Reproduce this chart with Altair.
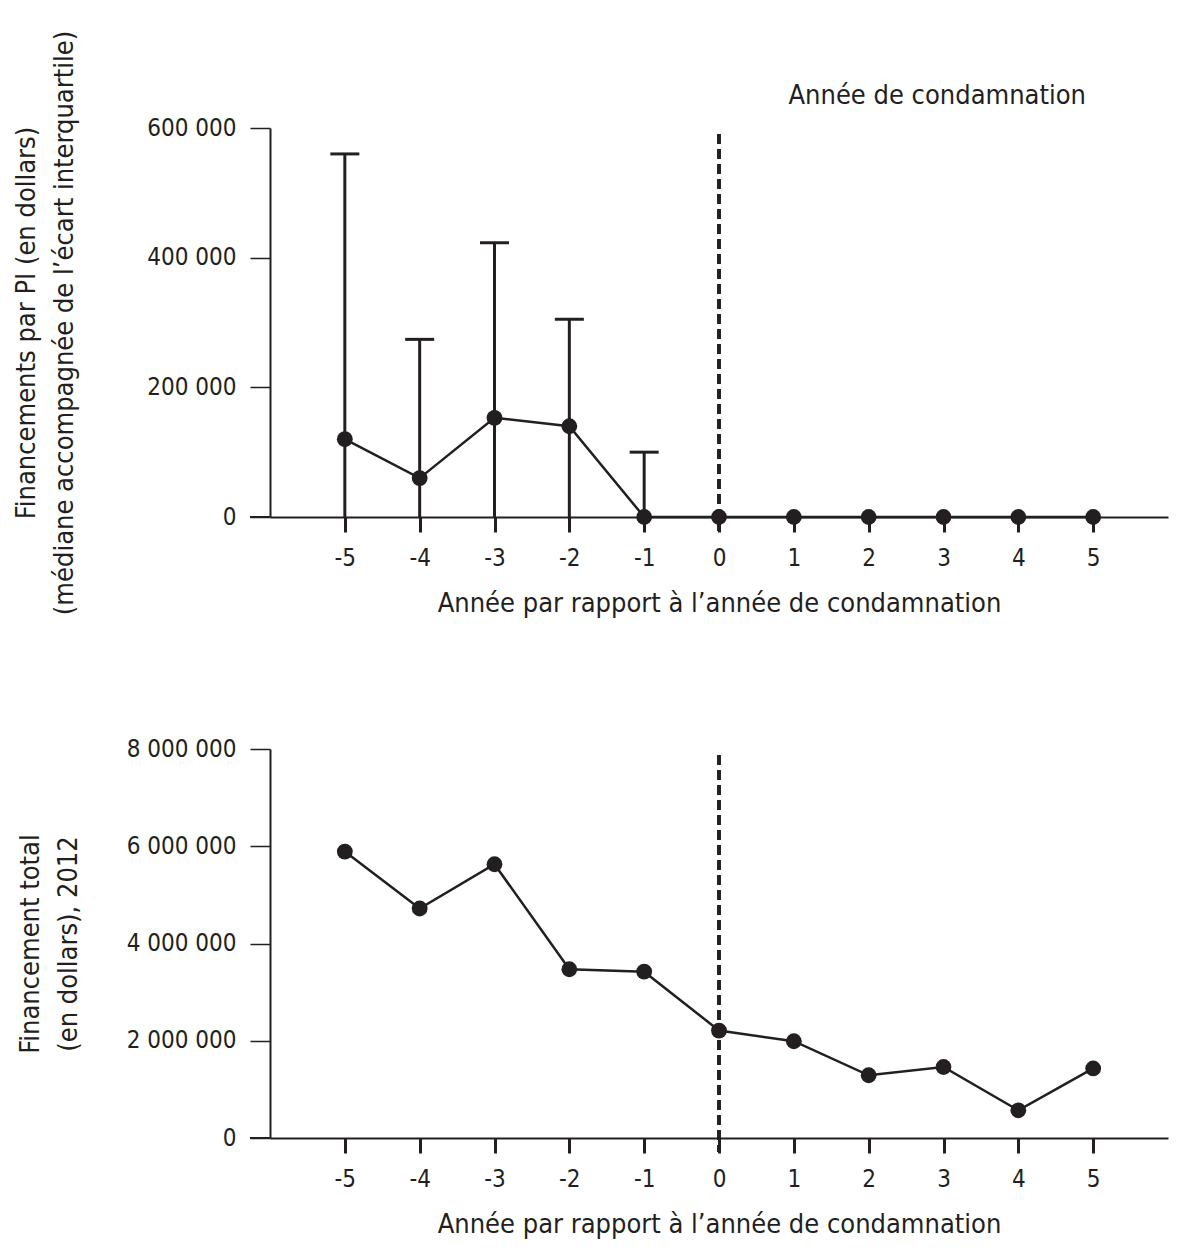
import altair as alt
import pandas as pd

# ---- data ----
years = [-5, -4, -3, -2, -1, 0, 1, 2, 3, 4, 5]
median_pi = [120000, 60000, 153000, 140000, 0, 0, 0, 0, 0, 0, 0]
q1_pi = [0, 0, 0, 0, 0, 0, 0, 0, 0, 0, 0]
q3_pi = [560000, 274000, 423000, 305000, 100000, 0, 0, 0, 0, 0, 0]
total_2012 = [5890000, 4720000, 5630000, 3470000, 3420000, 2210000,
              1990000, 1290000, 1460000, 570000, 1430000]
top_yticks = [0, 200000, 400000, 600000]
bot_yticks = [0, 2000000, 4000000, 6000000, 8000000]
annotation = ["Année de condamnation"]

FONT = "DejaVu Sans Condensed, Liberation Sans Narrow, sans-serif"
INK = "#231f20"
W, H = 898, 389
TITLE_FS = 27

top_df = pd.DataFrame({"annee": years, "mediane": median_pi, "q1": q1_pi, "q3": q3_pi})
bot_df = pd.DataFrame({"annee": years, "total": total_2012})
ann_df = pd.DataFrame({"texte": annotation})

x_scale = alt.Scale(domain=[-6, 6], nice=False, zero=False)
x_label = "datum.value < 0 ? '-' + abs(datum.value) : '' + datum.value"
y_label = "replace(format(datum.value, ','), regexp(',', 'g'), ' ')"
x_title = "Année par rapport à l’année de condamnation"


def x_enc():
    return alt.X("annee:Q", scale=x_scale,
                 axis=alt.Axis(values=years, title=x_title, labelExpr=x_label,
                               tickSize=15, tickWidth=3, domainWidth=2,
                               labelPadding=14, titlePadding=20))


def common_layers(base, yfield, yscale, yaxis):
    y = alt.Y(f"{yfield}:Q", scale=yscale, axis=yaxis)
    line = base.mark_line(color=INK, strokeWidth=2.5).encode(x=x_enc(), y=y)
    pts = base.mark_circle(color=INK, size=250, opacity=1).encode(x=x_enc(), y=y)
    dash = base.mark_rule(color=INK, strokeWidth=2.5, strokeDash=[10, 5]).encode(
        x=alt.datum(0), y=alt.value(6), y2=alt.value(H + 14))
    ext = base.mark_rule(color=INK, strokeWidth=2).encode(
        x=alt.value(-20), x2=alt.value(0), y=alt.datum(0))
    return line, pts, dash, ext


# ---- top panel ----
top_base = alt.Chart(top_df)
top_yscale = alt.Scale(domain=[0, 600000], nice=False)
top_yaxis = alt.Axis(values=top_yticks, labelExpr=y_label,
                     title=["Financements par PI (en dollars)",
                            "(médiane accompagnée de l’écart interquartile)"],
                     tickSize=20, tickWidth=1.5, domainWidth=2,
                     labelPadding=14, titlePadding=68)
t_line, t_pts, t_dash, t_ext = common_layers(top_base, "mediane", top_yscale, top_yaxis)
err = top_base.transform_filter("datum.q3 > 0").mark_rule(color=INK, strokeWidth=3).encode(
    x=x_enc(), y=alt.Y("q1:Q", scale=top_yscale), y2="q3:Q")
caps = top_base.transform_filter("datum.q3 > 0").mark_tick(
    color=INK, orient="horizontal", size=29, thickness=3, opacity=1).encode(
    x=x_enc(), y=alt.Y("q3:Q", scale=top_yscale))
ann = alt.Chart(ann_df).mark_text(
    align="right", baseline="alphabetic", font=FONT, fontSize=TITLE_FS, color=INK
).encode(x=alt.value(W - 82), y=alt.value(-24), text="texte:N")

top = alt.layer(t_dash, err, caps, t_line, t_pts, t_ext, ann).properties(width=W, height=H)

# ---- bottom panel ----
bot_base = alt.Chart(bot_df)
bot_yscale = alt.Scale(domain=[0, 8000000], nice=False)
bot_yaxis = alt.Axis(values=bot_yticks, labelExpr=y_label,
                     title=["Financement total", "(en dollars), 2012"],
                     tickSize=20, tickWidth=1.5, domainWidth=2,
                     labelPadding=14, titlePadding=44)
b_line, b_pts, b_dash, b_ext = common_layers(bot_base, "total", bot_yscale, bot_yaxis)
bottom = alt.layer(b_dash, b_line, b_pts, b_ext).properties(width=W, height=H)

chart = alt.vconcat(top, bottom, spacing=121).properties(
    padding={"left": 12, "top": 30, "right": 10, "bottom": 5},
    background="white",
).configure_view(stroke=None).configure_axis(
    grid=False, domainColor=INK, tickColor=INK, labelColor=INK, titleColor=INK,
    labelFont=FONT, titleFont=FONT, labelFontSize=24, titleFontSize=TITLE_FS,
    titleFontWeight="normal", titleLineHeight=38,
)

chart.save("out.html", embed_options={"renderer": "svg", "actions": False})
